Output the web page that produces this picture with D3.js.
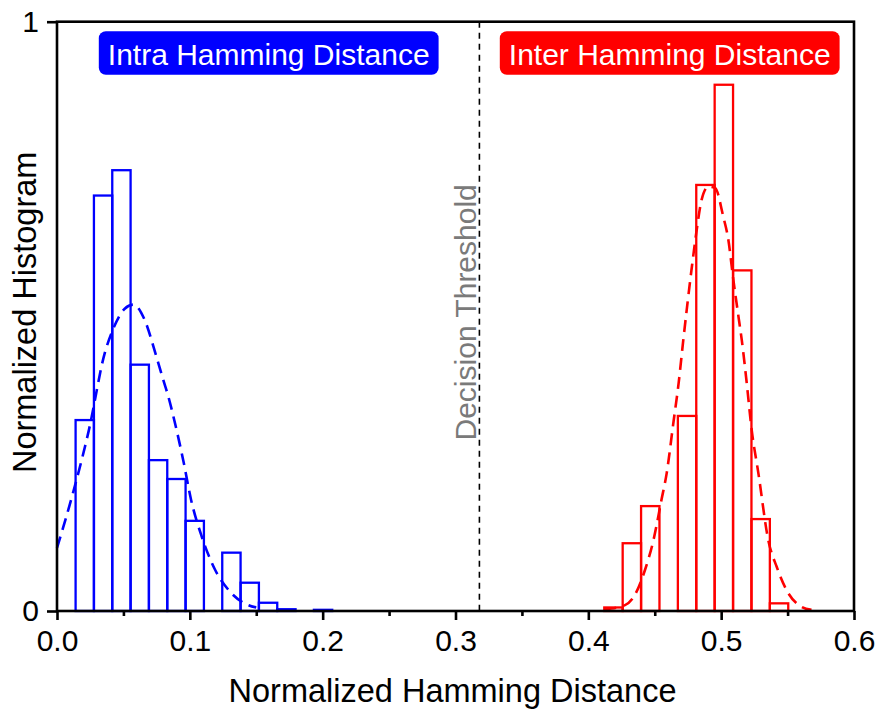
<!DOCTYPE html>
<html><head><meta charset="utf-8">
<script src="https://cdn.jsdelivr.net/npm/d3@7"></script>
<style>body{margin:0;background:#fff} text{font-family:"Liberation Sans",Arial,Helvetica,sans-serif}</style>
</head><body><svg id="c" width="880" height="711"></svg>
<script>
// ---- data ----
const xTicks = [0.0, 0.1, 0.2, 0.3, 0.4, 0.5, 0.6];
const xTickLabels = ["0.0", "0.1", "0.2", "0.3", "0.4", "0.5", "0.6"];
const xMinorTicks = [0.05, 0.15, 0.25, 0.35, 0.45, 0.55];
const yTicks = [0, 1];
const yTickLabels = ["0", "1"];

const intraEdges = [0.0140,0.0278,0.0416,0.0554,0.0692,0.0830,0.0968,0.1106,0.1244,0.1382,0.1520,0.1658,0.1796,0.1934,0.2072];
const intraHeights = [0.324,0.705,0.748,0.418,0.256,0.224,0.153,0,0.099,0.048,0.014,0.003,0,0.002];

const interEdges = [0.4120,0.42585,0.4397,0.45355,0.4674,0.48125,0.4951,0.50895,0.5228,0.53665,0.5505];
const interHeights = [0.006,0.115,0.178,0,0.331,0.723,0.893,0.578,0.156,0.013];

const intraFitX = [0.000,0.012,0.024,0.036,0.042,0.051,0.0575,0.066,0.074,0.080,0.0838,0.0888,0.0951,0.101,0.109,0.119,0.129,0.144,0.150];
const intraFitY = [0.107,0.200,0.307,0.438,0.477,0.513,0.520,0.494,0.438,0.392,0.364,0.319,0.255,0.188,0.126,0.070,0.036,0.010,0.006];

const interFitX = [0.412,0.4276,0.435,0.4427,0.449,0.455,0.459,0.464,0.468,0.4715,0.478,0.4816,0.4853,0.4903,0.4954,0.5016,0.5054,0.509,0.513,0.5155,0.519,0.523,0.528,0.5355,0.5418,0.5506,0.5606,0.568];
const interFitY = [0.003,0.010,0.027,0.070,0.120,0.188,0.234,0.319,0.387,0.460,0.585,0.647,0.698,0.720,0.718,0.669,0.630,0.565,0.500,0.460,0.392,0.307,0.234,0.120,0.075,0.030,0.007,0.002];

const threshold = 0.318;
const labels = {x: "Normalized Hamming Distance", y: "Normalized Histogram", thr: "Decision Threshold",
  intra: "Intra Hamming Distance", inter: "Inter Hamming Distance"};

// ---- drawing ----
const svg = d3.select("#c");
const L = 57, R = 854, T = 21.7, B = 611;
const x = d3.scaleLinear().domain([0, 0.6]).range([L, R]);
const y = d3.scaleLinear().domain([0, 1]).range([B, T]);

function bars(edges, heights, color) {
  const d = heights.map((h, i) => ({x0: edges[i], x1: edges[i+1], h})).filter(d => d.h > 0);
  svg.append("g").selectAll("rect").data(d).join("rect")
    .attr("x", d => x(d.x0)).attr("width", d => x(d.x1) - x(d.x0))
    .attr("y", d => y(d.h)).attr("height", d => y(0) - y(d.h))
    .attr("fill", "none").attr("stroke", color).attr("stroke-width", 2.3);
}
bars(intraEdges, intraHeights, "#0000ff");
bars(interEdges, interHeights, "#ff0000");

function fit(xs, ys, color) {
  const line = d3.line().x(d => x(d[0])).y(d => y(d[1])).curve(d3.curveMonotoneX);
  svg.append("path").attr("d", line(xs.map((v, i) => [v, ys[i]])))
    .attr("fill", "none").attr("stroke", color).attr("stroke-width", 2.6)
    .attr("stroke-dasharray", "12,7");
}
fit(intraFitX, intraFitY, "#0000ff");
fit(interFitX, interFitY, "#ff0000");

// threshold
svg.append("line").attr("x1", x(threshold)).attr("x2", x(threshold)).attr("y1", y(1)).attr("y2", y(0))
  .attr("stroke", "#000").attr("stroke-width", 1.6).attr("stroke-dasharray", "6,5");
svg.append("text").attr("transform", `translate(${x(threshold) - 3},${(T + B) / 2 - 4}) rotate(-90)`)
  .attr("text-anchor", "middle").attr("font-size", 30).attr("fill", "#7a7a7a").text(labels.thr);

// legend boxes
function badge(cx, text, color) {
  const g = svg.append("g");
  const t = g.append("text").attr("x", cx).attr("y", 64.7).attr("text-anchor", "middle")
    .attr("font-size", 30).attr("fill", "#fff").text(text);
  const bb = t.node().getBBox();
  g.insert("rect", "text").attr("x", bb.x - 9).attr("width", bb.width + 18)
    .attr("y", 31.3).attr("height", 43.4).attr("rx", 7).attr("fill", color);
}
badge(268.7, labels.intra, "#0000ff");
badge(669.7, labels.inter, "#ff0000");

// frame
svg.append("rect").attr("x", L).attr("y", T).attr("width", R - L).attr("height", B - T)
  .attr("fill", "none").attr("stroke", "#000").attr("stroke-width", 2.6);

// x axis
const xAxis = svg.append("g").attr("transform", `translate(0,${B})`)
  .call(d3.axisBottom(x).tickValues(xTicks).tickFormat((d, i) => xTickLabels[i]).tickSize(9).tickPadding(10));
xAxis.select(".domain").remove();
xAxis.selectAll(".tick line").attr("stroke-width", 2.6);
xAxis.selectAll(".tick text").attr("font-size", 30).attr("font-family", "Liberation Sans, Arial, sans-serif").attr("fill", "#000");
const xMinor = svg.append("g").attr("transform", `translate(0,${B})`)
  .call(d3.axisBottom(x).tickValues(xMinorTicks).tickFormat("").tickSize(5));
xMinor.select(".domain").remove();
xMinor.selectAll(".tick line").attr("stroke-width", 2.6);

// y axis
const yAxis = svg.append("g").attr("transform", `translate(${L},0)`)
  .call(d3.axisLeft(y).tickValues(yTicks).tickFormat((d, i) => yTickLabels[i]).tickSize(10).tickPadding(8));
yAxis.select(".domain").remove();
yAxis.selectAll(".tick line").attr("stroke-width", 2.6);
yAxis.selectAll(".tick text").attr("font-size", 30).attr("font-family", "Liberation Sans, Arial, sans-serif").attr("fill", "#000");

// titles
svg.append("text").attr("x", (L + R) / 2 - 3).attr("y", 702).attr("text-anchor", "middle")
  .attr("font-size", 32.5).text(labels.x);
svg.append("text").attr("transform", `translate(36,${(T + B) / 2 - 4}) rotate(-90)`)
  .attr("text-anchor", "middle").attr("font-size", 32.5).text(labels.y);
</script></body></html>
